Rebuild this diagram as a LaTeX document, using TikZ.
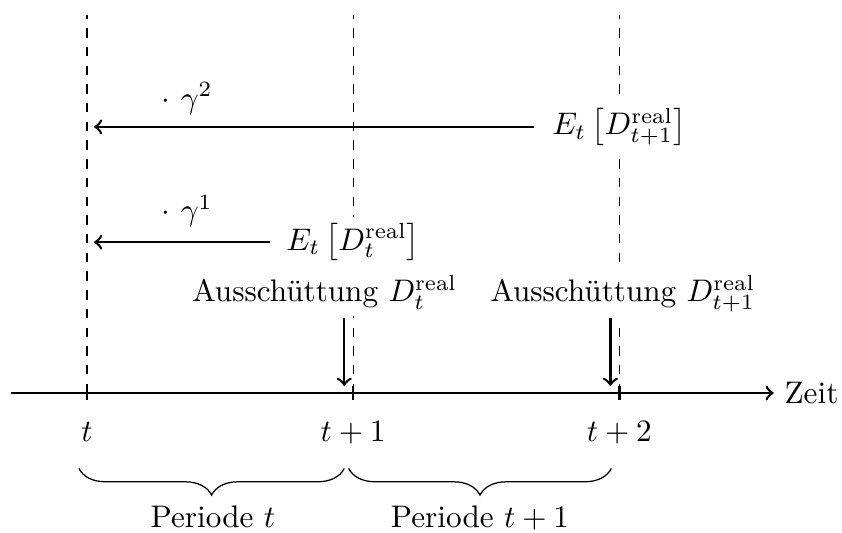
\documentclass[tikz,border=0pt]{standalone}
\usepackage{fontspec}
\usepackage{amsmath}
\usetikzlibrary{decorations.pathreplacing}
\begin{document}
\begin{tikzpicture}[
  mainline/.style={thick},
  dashline/.style={thin,dashed},
  arr/.style={thick,->},
  bracedeco/.style={thin,decorate,decoration={brace,mirror,amplitude=0.3cm}},
  whitelabel/.style={fill=white,inner sep=2pt},
  ticklabel/.style={anchor=base}
]
\useasboundingbox (-0.98,-1.57) rectangle (8.51,4.43);

% dashed vertical lines
\coordinate (d0b) at (0,0);   \coordinate (d0t) at (0,4.26);
\coordinate (d1b) at (3,0);   \coordinate (d1t) at (3,4.26);
\coordinate (d2b) at (6,0);   \coordinate (d2t) at (6,4.26);
\draw[dashline] (d0b) -- (d0t);
\draw[dashline] (d1b) -- (d1t);
\draw[dashline] (d2b) -- (d2t);

% time axis
\coordinate (axstart) at (-0.86,0);
\node[anchor=west,inner sep=3.33pt] (zeit) at (7.74,0) {Zeit};
\draw[arr] (axstart) -- (zeit.west);

% ticks
\foreach \x/\n in {0/a,3/b,6/c}{
  \coordinate (tk\n t) at (\x,0.075);
  \coordinate (tk\n b) at (\x,-0.075);
  \draw[mainline] (tk\n t) -- (tk\n b);
}
\node[ticklabel] (lt)  at (0,-0.55) {$t$};
\node[ticklabel] (lt1) at (3,-0.55) {$t+1$};
\node[ticklabel] (lt2) at (6,-0.55) {$t+2$};

% braces
\coordinate (b1l) at (-0.09,-0.85); \coordinate (b1r) at (2.9,-0.85);
\coordinate (b2l) at (2.95,-0.85);  \coordinate (b2r) at (5.91,-0.85);
\draw[bracedeco] (b1l) -- (b1r);
\draw[bracedeco] (b2l) -- (b2r);
\node[ticklabel] (p1) at (1.42,-1.52) {Periode $t$};
\node[ticklabel] (p2) at (4.43,-1.52) {Periode $t+1$};

% distributions
\node[whitelabel,anchor=base] (aus1) at (2.68,1.03) {Ausschüttung $D_t^{\mathrm{real}}$};
\node[whitelabel,anchor=base] (aus2) at (6.04,1.03) {Ausschüttung $D_{t+1}^{\mathrm{real}}$};
\coordinate (a1s) at (2.9,0.85); \coordinate (a1e) at (2.9,0.08);
\coordinate (a2s) at (5.9,0.85); \coordinate (a2e) at (5.9,0.08);
\draw[arr] (a1s) -- (a1e);
\draw[arr] (a2s) -- (a2e);

% expectations
\node[whitelabel] (e2) at (6,3) {$E_t \left[D_{t+1}^{\mathrm{real}}\right]$};
\node[whitelabel] (e1) at (3,1.7) {$E_t \left[D_{t}^{\mathrm{real}}\right]$};
\coordinate (u2s) at (5.04,3);   \coordinate (u2e) at (0.08,3);
\coordinate (u1s) at (2.06,1.7); \coordinate (u1e) at (0.08,1.7);
\draw[arr] (u2s) -- (u2e);
\draw[arr] (u1s) -- (u1e);
\node[anchor=base] (g2) at (1.13,3.21) {$\cdot$ $\gamma^2$};
\node[anchor=base] (g1) at (1.13,1.94) {$\cdot$ $\gamma^1$};
\end{tikzpicture}
\end{document}
